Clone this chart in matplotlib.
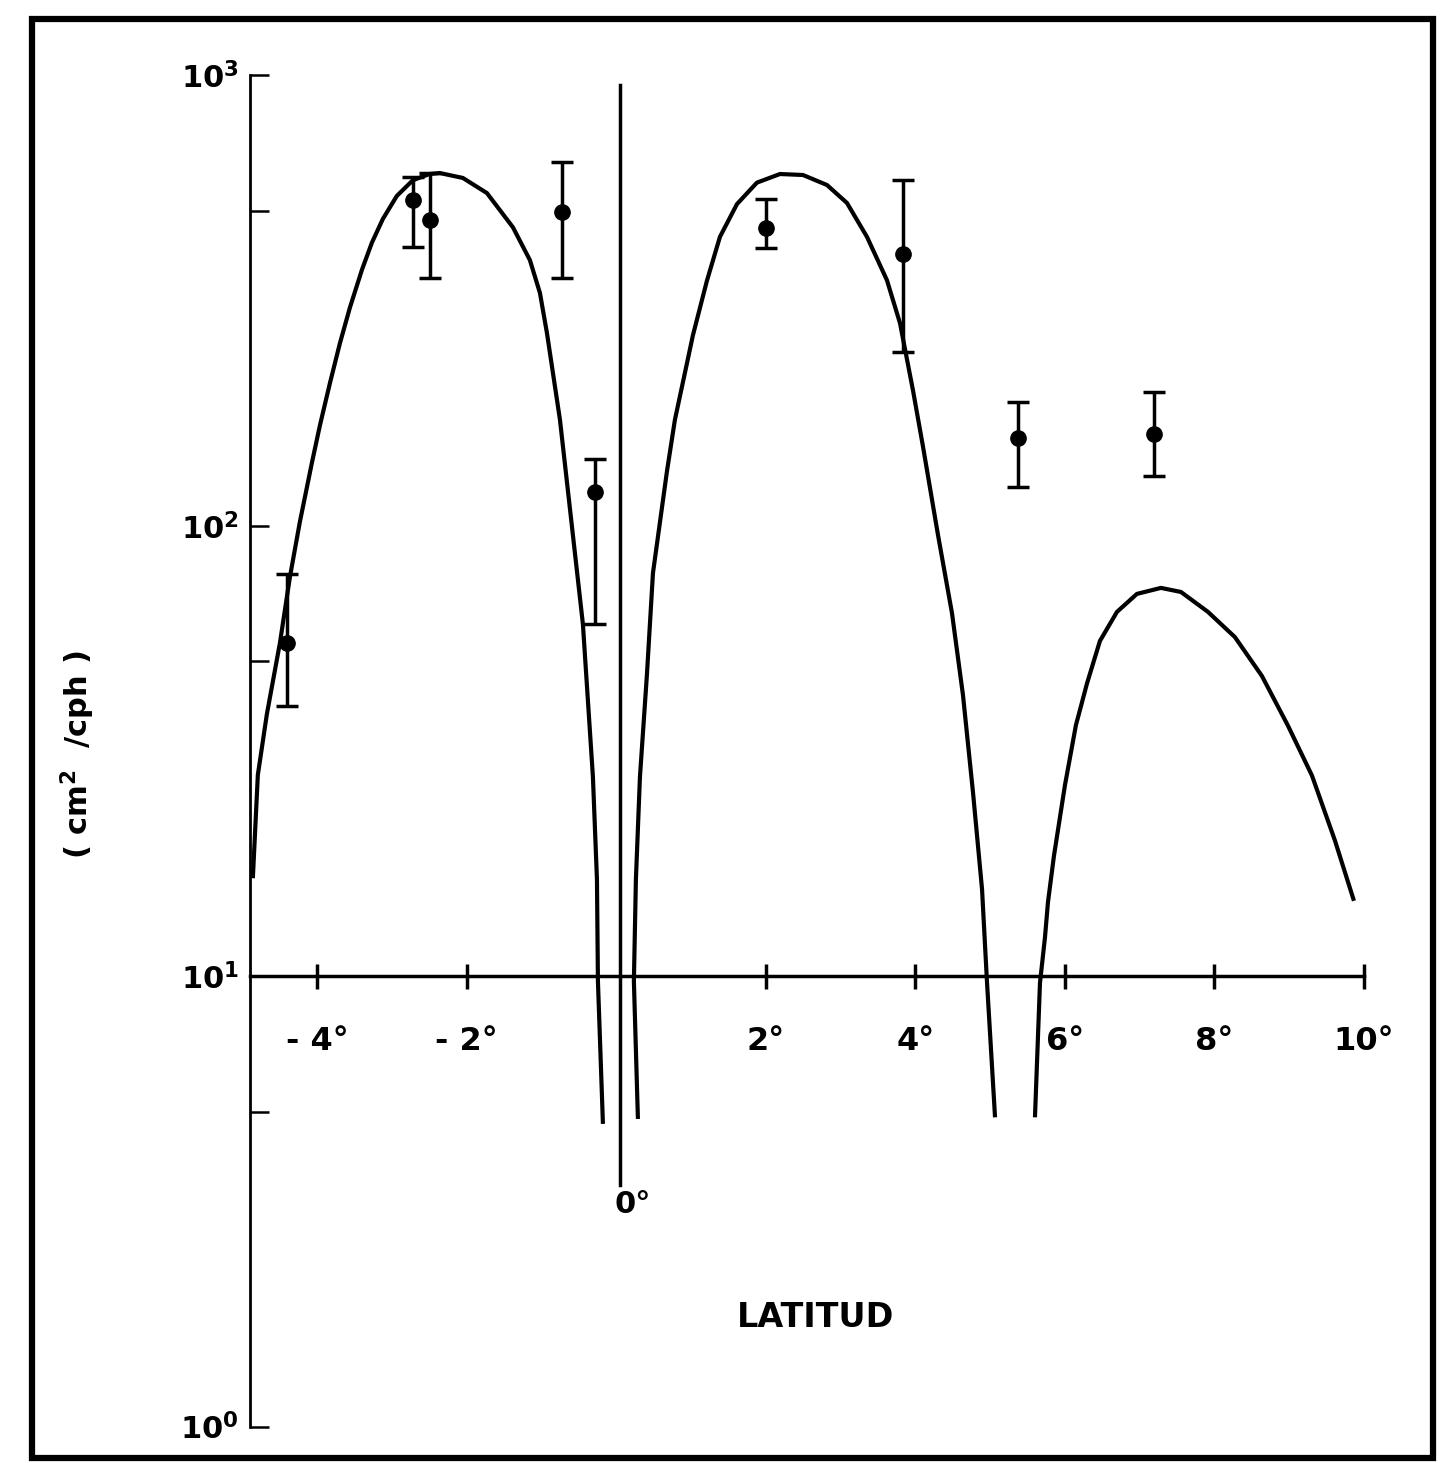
"""
Espectro vs latitud -- reproduccion de figura escaneada (escala log)
"""
import matplotlib
matplotlib.use("Agg")
import matplotlib.pyplot as plt
from matplotlib.patches import Rectangle
from matplotlib.ticker import FixedLocator, NullFormatter

plt.rcParams.update({
    "font.family": "DejaVu Sans",
    "font.weight": "bold",
    "mathtext.default": "bf",
})

# -- curva teorica (tres lobulos) --
lobe1_lat = [-4.862, -4.795, -4.674, -4.500, -4.366, -4.233, -4.072, -3.965,
             -3.832, -3.698, -3.564, -3.403, -3.270, -3.123, -2.936, -2.722,
             -2.500, -2.360, -2.053, -1.731, -1.383, -1.156, -1.022, -0.928,
             -0.754, -0.447, -0.313, -0.259, -0.246, -0.179]
lobe1_val = [16.5, 28.0, 38.2, 54.9, 77.0, 102, 138, 167,
             207, 254, 305, 370, 425, 480, 540, 585,
             604, 607, 592, 548, 460, 389, 329, 268,
             172, 60.5, 27.7, 16.4, 9.75, 4.70]

lobe2_lat = [0.289, 0.235, 0.262, 0.316, 0.409, 0.490, 0.677, 0.784,
             1.025, 1.212, 1.386, 1.614, 1.881, 2.189, 2.497, 2.818, 3.085,
             3.353, 3.620, 3.794, 3.968, 4.102, 4.303, 4.490, 4.637, 4.771,
             4.892, 4.959, 5.066]
lobe2_val = [4.82, 9.75, 16.4, 27.7, 46.6, 78.5, 132, 172,
             265, 350, 438, 518, 578, 604, 601, 571, 521,
             438, 351, 282, 200, 150, 95.4, 64.0, 42.1, 25.6,
             15.6, 9.66, 4.86]

lobe3_lat = [5.600, 5.667, 5.734, 5.774, 5.854, 6.002, 6.148, 6.295, 6.469,
             6.697, 6.964, 7.285, 7.553, 7.914, 8.275, 8.636, 8.984, 9.305,
             9.613, 9.867]
lobe3_val = [4.86, 9.66, 12.2, 14.6, 18.5, 26.6, 36.1, 44.6, 55.5,
             64.4, 70.6, 72.8, 71.3, 64.4, 56.6, 46.4, 36.0, 27.9,
             20.0, 14.7]

# -- observaciones con barras de error --
obs_lat = [-4.407, -2.722, -2.495, -0.728, -0.286, 1.999, 3.833, 5.372, 7.192]
obs_val = [54.9, 528, 477, 497, 119, 458, 401, 157, 160]
obs_hi = [78.2, 595, 607, 643, 141, 532, 586, 188, 198]
obs_lo = [39.8, 416, 355, 355, 60.5, 414, 243, 122, 129]

xtick_pos = [-4, -2, 2, 4, 6, 8, 10]
xtick_lab = ["- 4°", "- 2°", "2°", "4°", "6°", "8°", "10°"]
ytick_pos = [1, 10, 100, 1000]
ytick_lab = ["10$^0$", "10$^1$", "10$^2$", "10$^3$"]
yminor_pos = [5, 50, 500]

zero_lat = 0.05
zero_line = [3.44, 952]

W, H = 1441, 1463
fig = plt.figure(figsize=(W / 100, H / 100), dpi=100)
ax = fig.add_axes([250 / W, (H - 1426.6) / H, 1113.9 / W, 1351.2 / H])

ax.set_yscale("log")
ax.set_xlim(-4.9, 10.0)
ax.set_ylim(1, 1000)

for lat, val in [(lobe1_lat, lobe1_val), (lobe2_lat, lobe2_val),
                 (lobe3_lat, lobe3_val)]:
    ax.plot(lat, val, color="black", lw=3, solid_joinstyle="round",
            solid_capstyle="butt", zorder=3)

lo_err = [v - l for v, l in zip(obs_val, obs_lo)]
hi_err = [h - v for v, h in zip(obs_val, obs_hi)]
ax.errorbar(obs_lat, obs_val, yerr=[lo_err, hi_err], fmt="o", color="black",
            ms=11, capsize=8, elinewidth=2.5, capthick=2.5, zorder=4)

# linea del ecuador
ax.plot([zero_lat, zero_lat], zero_line, color="black", lw=2.5, zorder=2)
ax.text(0.22, 3.35, "0°", fontsize=22, ha="center", va="top")

# ejes
for s in ["top", "right"]:
    ax.spines[s].set_visible(False)
ax.spines["bottom"].set_position(("data", 10))
ax.spines["bottom"].set_linewidth(2.5)
ax.spines["left"].set_linewidth(2)

ax.set_xticks(xtick_pos, labels=xtick_lab)
ax.tick_params(axis="x", direction="inout", length=18, width=2.5,
               pad=27, labelsize=23)
ax.set_yticks(ytick_pos, labels=ytick_lab)
ax.yaxis.set_minor_locator(FixedLocator(yminor_pos))
ax.yaxis.set_minor_formatter(NullFormatter())
ax.tick_params(axis="y", which="both", direction="in", length=14, width=1.8,
               pad=8, labelsize=22)

ax.set_ylabel("( cm$^2$  /cph )", fontsize=22, fontweight="bold")
ax.yaxis.set_label_coords(-0.137, 0.497)
ax.text(0.508, 0.081, "LATITUD", transform=ax.transAxes, fontsize=24,
        ha="center", va="center")

# marco exterior
fig.patches.append(Rectangle((31.5 / W, 1 - 1458 / H), (1433 - 31.5) / W,
                             (1458 - 18.5) / H, transform=fig.transFigure,
                             fill=False, edgecolor="black", lw=4.5))

fig.savefig("out.png", dpi=100)
